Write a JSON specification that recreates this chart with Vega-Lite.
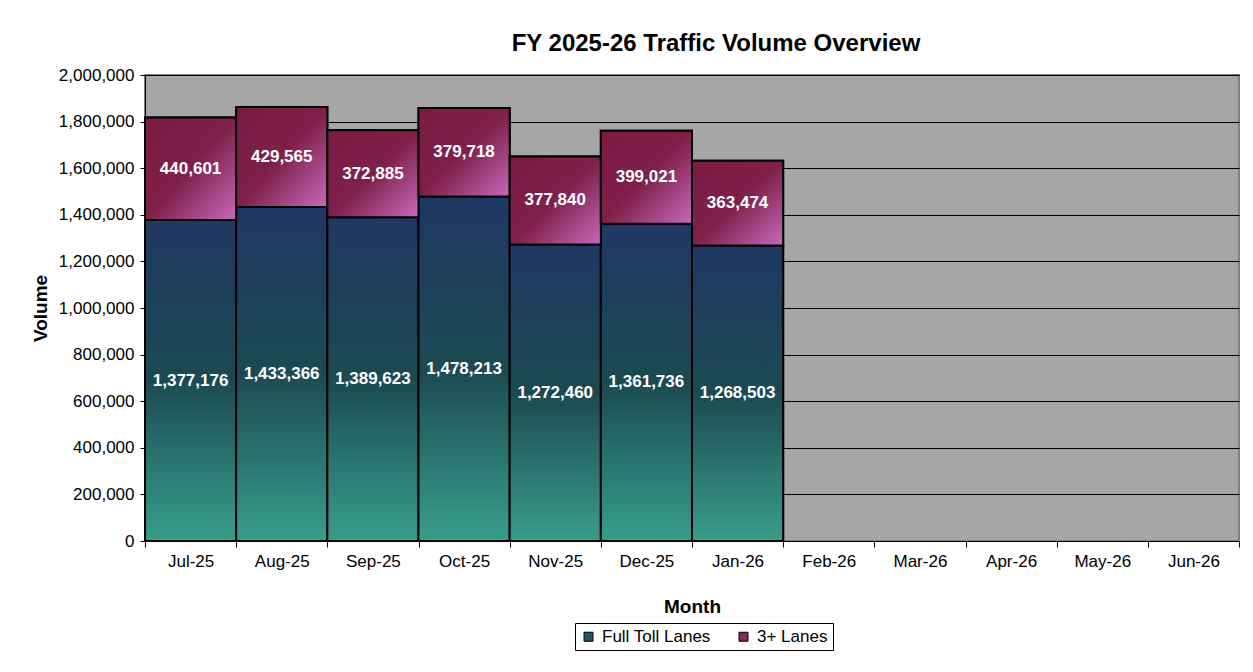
{
  "$schema": "https://vega.github.io/schema/vega-lite/v6.json",
  "autosize": {"type": "none"},
  "width": 1094,
  "height": 466,
  "padding": {"left": 145, "top": 75, "right": 14, "bottom": 131},
  "background": "white",
  "title": {"text": "FY 2025-26 Traffic Volume Overview", "font": "Liberation Sans", "fontSize": 24, "fontWeight": "bold", "color": "#000", "offset": 10, "dx": 24},
  "config": {
    "view": {"fill": "#A6A6A6", "stroke": "#808080", "strokeWidth": 2},
    "font": "Liberation Sans",
    "numberFormat": ",d",
    "axisY": {"tickCount": 10, "grid": true, "gridColor": "#000", "gridWidth": 1, "gridOpacity": 1, "labelFontSize": 17, "labelColor": "#000", "labelPadding": 6, "tickColor": "#000", "tickSize": 5, "domainColor": "#000", "titleFontSize": 19, "titleFontWeight": "bold", "titleColor": "#000", "titlePadding": 8},
    "axisX": {"grid": false, "labelAngle": 0, "labelFontSize": 17, "labelColor": "#000", "labelPadding": 6, "tickBand": "extent", "tickColor": "#000", "tickSize": 6, "domainColor": "#000", "domainWidth": 1, "titleFontSize": 19, "titleFontWeight": "bold", "titleColor": "#000", "titlePadding": 28}
  },
  "data": {"values": [
    {"month": "Jul-25", "series": "Full Toll Lanes", "value": 1377176},
    {"month": "Jul-25", "series": "3+ Lanes", "value": 440601},
    {"month": "Aug-25", "series": "Full Toll Lanes", "value": 1433366},
    {"month": "Aug-25", "series": "3+ Lanes", "value": 429565},
    {"month": "Sep-25", "series": "Full Toll Lanes", "value": 1389623},
    {"month": "Sep-25", "series": "3+ Lanes", "value": 372885},
    {"month": "Oct-25", "series": "Full Toll Lanes", "value": 1478213},
    {"month": "Oct-25", "series": "3+ Lanes", "value": 379718},
    {"month": "Nov-25", "series": "Full Toll Lanes", "value": 1272460},
    {"month": "Nov-25", "series": "3+ Lanes", "value": 377840},
    {"month": "Dec-25", "series": "Full Toll Lanes", "value": 1361736},
    {"month": "Dec-25", "series": "3+ Lanes", "value": 399021},
    {"month": "Jan-26", "series": "Full Toll Lanes", "value": 1268503},
    {"month": "Jan-26", "series": "3+ Lanes", "value": 363474}
  ]},
  "transform": [
    {"stack": "value", "groupby": ["month"], "sort": [{"field": "series", "order": "descending"}], "as": ["v0", "v1"]},
    {"calculate": "(datum.v0 + datum.v1) / 2", "as": "mid"}
  ],
  "encoding": {
    "x": {
      "field": "month", "type": "nominal", "sort": null, "title": "Month",
      "scale": {"domain": ["Jul-25", "Aug-25", "Sep-25", "Oct-25", "Nov-25", "Dec-25", "Jan-26", "Feb-26", "Mar-26", "Apr-26", "May-26", "Jun-26"], "paddingInner": 0, "paddingOuter": 0}
    }
  },
  "layer": [
    {
      "mark": {"type": "bar", "stroke": "#000", "strokeWidth": 2},
      "encoding": {
        "y": {"field": "v0", "type": "quantitative", "title": "Volume", "scale": {"domain": [0, 2000000]}, "axis": {"format": ",d"}},
        "y2": {"field": "v1"},
        "color": {"field": "series", "type": "nominal",
          "scale": {"domain": ["Full Toll Lanes", "3+ Lanes"], "range": ["#245566", "#8A2958"]},
          "legend": {"orient": "none", "legendX": 430, "legendY": 548, "direction": "horizontal", "title": null, "strokeColor": "#000", "padding": 5, "symbolType": "square", "symbolSize": 81, "symbolStrokeColor": "#000", "symbolStrokeWidth": 1, "labelFontSize": 17, "labelColor": "#000", "labelOffset": 5, "columnPadding": 24}}
      }
    },
    {
      "transform": [{"filter": "datum.series === 'Full Toll Lanes'"}],
      "mark": {"type": "bar", "stroke": "#000", "strokeWidth": 2,
        "fill": {"gradient": "linear", "x1": 0, "y1": 0, "x2": 0, "y2": 1, "stops": [{"offset": 0, "color": "#203763"}, {"offset": 0.5, "color": "#1B4A52"}, {"offset": 1, "color": "#389E8C"}]}},
      "encoding": {
        "y": {"field": "v0", "type": "quantitative", "title": "Volume", "axis": {"format": ",d"}},
        "y2": {"field": "v1"}
      }
    },
    {
      "transform": [{"filter": "datum.series === '3+ Lanes'"}],
      "mark": {"type": "bar", "stroke": "#000", "strokeWidth": 2,
        "fill": {"gradient": "linear", "x1": 0, "y1": 0, "x2": 1, "y2": 1, "stops": [{"offset": 0, "color": "#7A1B42"}, {"offset": 0.5, "color": "#7E2049"}, {"offset": 1, "color": "#C868BE"}]}},
      "encoding": {
        "y": {"field": "v0", "type": "quantitative", "title": "Volume", "axis": {"format": ",d"}},
        "y2": {"field": "v1"}
      }
    },
    {
      "mark": {"type": "text", "color": "#fff", "fontSize": 17, "fontWeight": "bold", "baseline": "middle"},
      "encoding": {
        "y": {"field": "mid", "type": "quantitative", "title": "Volume", "axis": {"format": ",d"}},
        "text": {"field": "value", "type": "quantitative", "format": ","}
      }
    }
  ]
}
